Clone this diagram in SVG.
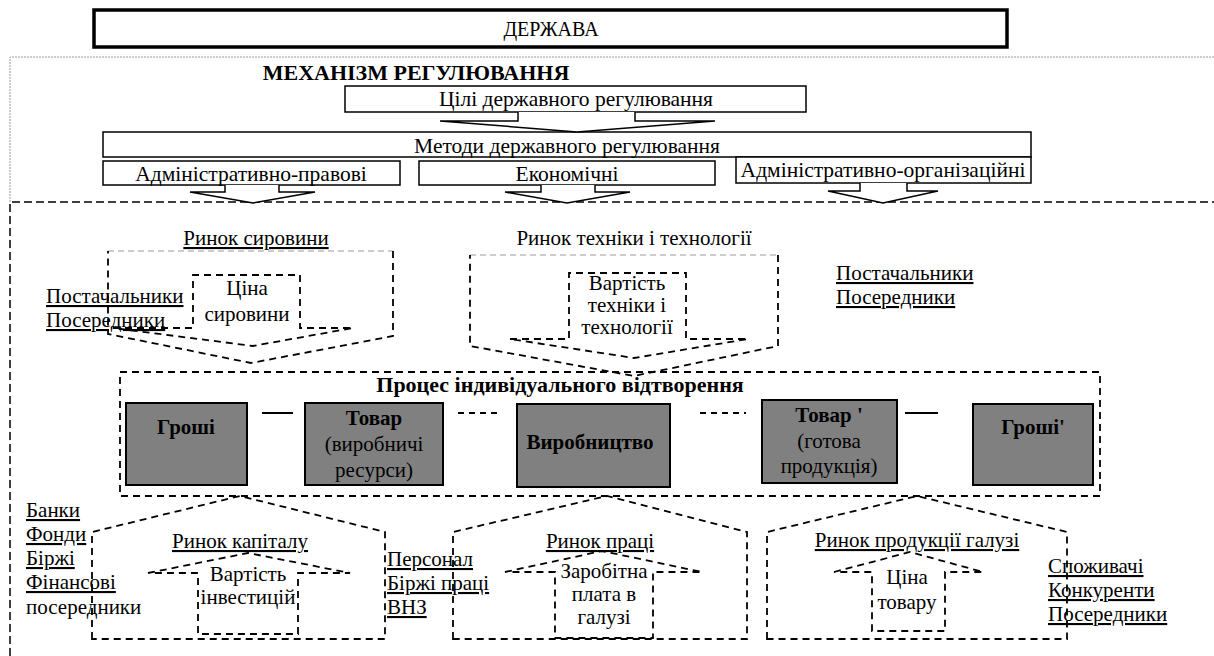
<svg xmlns="http://www.w3.org/2000/svg" width="1214" height="656" viewBox="0 0 1214 656">
<style>
text{font-family:"Liberation Serif","Times New Roman",serif;font-size:21px;fill:#000}
.c{text-anchor:middle}
.b{font-weight:bold}
.t{font-size:21.5px}
.h{font-size:22px}
.p{font-size:20px}
.u{text-decoration:underline;text-decoration-thickness:2px}
.box{fill:#fff;stroke:#000;stroke-width:1.5}
.arr{fill:#fff;stroke:#000;stroke-width:1.5;stroke-linejoin:miter}
.dash{fill:none;stroke:#000;stroke-width:1.8;stroke-dasharray:7,5}
.gray{fill:none;stroke:#999;stroke-width:1;stroke-dasharray:6,4}
.proc{fill:#808080;stroke:#000;stroke-width:2}
.ln{stroke:#000;stroke-width:2;fill:none}
.lnd{stroke:#000;stroke-width:2;fill:none;stroke-dasharray:6,5}
</style>
<rect width="1214" height="656" fill="#fff"/>

<g id="frames">
<path d="M10,202 V57 H1214" fill="none" stroke="#999" stroke-width="1" stroke-dasharray="2,1"/>
<path d="M10,656 V202 H1214" fill="none" stroke="#000" stroke-width="1.5" stroke-dasharray="8,4"/>
</g>

<g id="derzhava">
<rect x="94" y="10" width="913" height="37" fill="#fff" stroke="#000" stroke-width="3.5"/>
<text x="551" y="36" class="c p">ДЕРЖАВА</text>
</g>

<g id="mechanism">
<text x="416" y="80" class="c b h">МЕХАНІЗМ РЕГУЛЮВАННЯ</text>
</g>

<g id="goals">
<rect class="box" x="345" y="86" width="461" height="26"/>
<text x="576" y="106" class="c t">Цілі державного регулювання</text>
</g>

<g id="methods">
<rect class="box" x="103" y="132" width="928" height="25"/>
<text x="567" y="153" class="c t">Методи державного регулювання</text>
</g>

<g id="admin-legal">
<rect class="box" x="103" y="161" width="297" height="24"/>
<text x="251" y="181" class="c t">Адміністративно-правові</text>
</g>
<g id="economic">
<rect class="box" x="419" y="161" width="296" height="24"/>
<text x="567" y="181" class="c t">Економічні</text>
</g>
<g id="admin-org">
<rect class="box" x="736" y="157" width="295" height="26"/>
<text x="883" y="177" class="c t">Адміністративно-організаційні</text>
</g>

<g id="connectors">
<path class="arr" d="M518,112 V121 H440 L577,132 L715,121 H635 V112"/>
<path class="arr" d="M225,185 V192 H190 L253,203 L315,192 H279 V185"/>
<path class="arr" d="M541,185 V192 H505 L567,203 L630,192 H595 V185"/>
<path class="arr" d="M860,183 V191 H828 L883,203 L938,191 H907 V183"/>
<line class="ln" x1="262" y1="413" x2="293" y2="413"/>
<line class="lnd" x1="458" y1="413" x2="502" y2="413"/>
<line class="lnd" x1="700" y1="413" x2="746" y2="413"/>
<line class="ln" x1="905" y1="413" x2="938" y2="413"/>
</g>

<g id="market-raw">
<path class="gray" d="M108,251 H393"/>
<path class="dash" d="M393,251 V336 L251,363 L108,334 V251"/>
<path class="dash" d="M113,328 H193 V275 H300 V328 H353 L253,346 Z"/>
<text x="256" y="245" class="c u">Ринок сировини</text>
<text x="247" y="295" class="c">Ціна</text>
<text x="247" y="321" class="c">сировини</text>
</g>
<g id="suppliers-left">
<text x="46" y="303" class="u">Постачальники</text>
<text x="46" y="327" class="u">Посередники</text>
</g>

<g id="market-tech">
<path class="gray" d="M470,255 H778"/>
<path class="dash" d="M778,255 V346 L634,376 L470,346 V255"/>
<path class="dash" d="M510,339 H569 V273 H686 V339 H748 L634,358 Z"/>
<text x="634" y="245" class="c">Ринок техніки і технології</text>
<text x="627" y="290" class="c">Вартість</text>
<text x="627" y="312" class="c">техніки і</text>
<text x="627" y="334" class="c">технології</text>
</g>
<g id="suppliers-right">
<text x="836" y="280" class="u">Постачальники</text>
<text x="836" y="304" class="u">Посередники</text>
</g>

<g id="process">
<rect class="dash" x="120" y="372" width="980" height="124"/>
<text x="560" y="392" class="c b h">Процес індивідуального відтворення</text>
</g>
<g id="money">
<rect class="proc" x="126" y="403" width="121" height="82"/>
<text x="186" y="434" class="c b">Гроші</text>
</g>
<g id="goods">
<rect class="proc" x="305" y="403" width="138" height="82"/>
<text x="374" y="425" class="c b">Товар</text>
<text x="374" y="451" class="c">(виробничі</text>
<text x="374" y="477" class="c">ресурси)</text>
</g>
<g id="production">
<rect class="proc" x="517" y="404" width="153" height="83"/>
<text x="590" y="449" class="c b">Виробництво</text>
</g>
<g id="goods2">
<rect class="proc" x="762" y="400" width="135" height="83"/>
<text x="829" y="422" class="c b">Товар '</text>
<text x="829" y="448" class="c">(готова</text>
<text x="829" y="473" class="c">продукція)</text>
</g>
<g id="money2">
<rect class="proc" x="973" y="404" width="120" height="81"/>
<text x="1033" y="434" class="c b">Гроші'</text>
</g>

<g id="market-capital">
<path class="dash" d="M92,639 V532 L240,496 L385,532 V639 Z"/>
<path class="dash" d="M148,573 L248,553 L350,573 H298 V634 H198 V573 Z"/>
<text x="240" y="548" class="c u">Ринок капіталу</text>
<text x="248" y="581" class="c">Вартість</text>
<text x="248" y="604" class="c">інвестицій</text>
</g>
<g id="finance-labels">
<text x="26" y="517" class="u">Банки</text>
<text x="26" y="541" class="u">Фонди</text>
<text x="26" y="565" class="u">Біржі</text>
<text x="26" y="589" class="u">Фінансові</text>
<text x="26" y="614">посередники</text>
</g>

<g id="market-labour">
<path class="dash" d="M453,639 V532 L607,496 L747,532 V639 Z"/>
<path class="dash" d="M505,572 L602,551 L702,572 H653 V638 H555 V572 Z"/>
<text x="600" y="548" class="c u">Ринок праці</text>
<text x="604" y="578" class="c">Заробітна</text>
<text x="604" y="601" class="c">плата в</text>
<text x="604" y="624" class="c">галузі</text>
</g>
<g id="labour-labels">
<text x="387" y="566" class="u">Персонал</text>
<text x="387" y="590" class="u">Біржі праці</text>
<text x="387" y="614" class="u">ВНЗ</text>
</g>

<g id="market-product">
<path class="dash" d="M767,639 V532 L917,496 L1067,532 V639 Z"/>
<path class="dash" d="M834,572 L910,552 L983,572 H945 V631 H872 V572 Z"/>
<text x="917" y="547" class="c u">Ринок продукції галузі</text>
<text x="907" y="584" class="c">Ціна</text>
<text x="907" y="609" class="c">товару</text>
</g>
<g id="consumer-labels">
<text x="1048" y="573" class="u">Споживачі</text>
<text x="1048" y="597" class="u">Конкуренти</text>
<text x="1048" y="621" class="u">Посередники</text>
</g>
</svg>
